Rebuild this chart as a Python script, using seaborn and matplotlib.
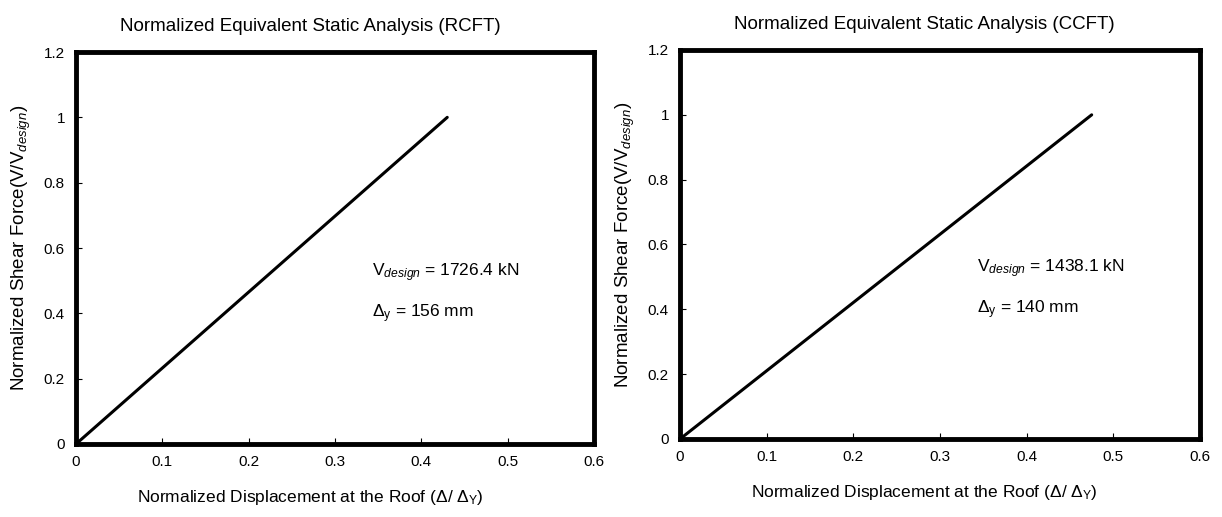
import matplotlib
matplotlib.use("Agg")
import matplotlib.pyplot as plt
import seaborn as sns
import numpy as np
from matplotlib.ticker import FuncFormatter

# Data
rcft_x = [0.0, 0.43]
rcft_y = [0.0, 1.0]
ccft_x = [0.0, 0.475]
ccft_y = [0.0, 1.0]
x_ticks = [0, 0.1, 0.2, 0.3, 0.4, 0.5, 0.6]
y_ticks = [0, 0.2, 0.4, 0.6, 0.8, 1.0, 1.2]
titles = ["Normalized Equivalent Static Analysis (RCFT)",
          "Normalized Equivalent Static Analysis (CCFT)"]
v_design = ["1726.4", "1438.1"]
delta_y = ["156", "140"]

sns.set_theme(style="white")
plt.rcParams['font.family'] = ['Liberation Sans', 'DejaVu Sans']
plt.rcParams['mathtext.fontset'] = 'custom'
plt.rcParams['mathtext.rm'] = 'Liberation Sans'
plt.rcParams['mathtext.it'] = 'Liberation Sans:italic'
plt.rcParams['mathtext.bf'] = 'Liberation Sans:bold'
plt.rcParams['text.color'] = 'black'
plt.rcParams['axes.labelcolor'] = 'black'
plt.rcParams['xtick.color'] = 'black'
plt.rcParams['ytick.color'] = 'black'

fig = plt.figure(figsize=(12.22, 5.17), dpi=100)
ax1 = fig.add_axes([0.0622, 0.1412, 0.4239, 0.7582])
ax2 = fig.add_axes([0.5565, 0.1509, 0.4255, 0.7524])

series = [(rcft_x, rcft_y), (ccft_x, ccft_y)]
title_x = [0.452, 0.47]
fmt = FuncFormatter(lambda v, p: f"{v:g}")
for i, ax in enumerate([ax1, ax2]):
    xs, ys = series[i]
    sns.lineplot(x=xs, y=ys, ax=ax, color='black', linewidth=2.2)
    ax.set_xlim(0, 0.6)
    ax.set_ylim(0, 1.2)
    ax.set_xticks(x_ticks)
    ax.set_yticks(y_ticks)
    ax.xaxis.set_major_formatter(fmt)
    ax.yaxis.set_major_formatter(fmt)
    ax.tick_params(axis='both', direction='in', length=4, width=0.8,
                   labelsize=11, pad=8, colors='black', bottom=True, left=True)
    for s in ax.spines.values():
        s.set_visible(True)
        s.set_color('black')
        s.set_linewidth(3.5)
    ax.set_title(titles[i], fontsize=13.5, pad=15, color='black', x=title_x[i])
    ax.set_xlabel(r'Normalized Displacement at the Roof (Δ/ Δ$_{\rm Y}$)', fontsize=12.5,
                  color='black')
    ax.xaxis.set_label_coords(title_x[i], -0.112)
    ax.set_ylabel(r'Normalized Shear Force(V/V$_{\it design}$)', fontsize=13.5,
                  labelpad=8, color='black')
    ax.text(0.343, 0.525, r'V$_{\it design}$ = ' + v_design[i] + ' kN', fontsize=12.5,
            va='center', ha='left', color='black')
    ax.text(0.343, 0.40, r'Δ$_{\rm y}$ = ' + delta_y[i] + ' mm', fontsize=12.5,
            va='center', ha='left', color='black')
    ax.grid(False)

fig.savefig("out.png", dpi=100, facecolor='white')
